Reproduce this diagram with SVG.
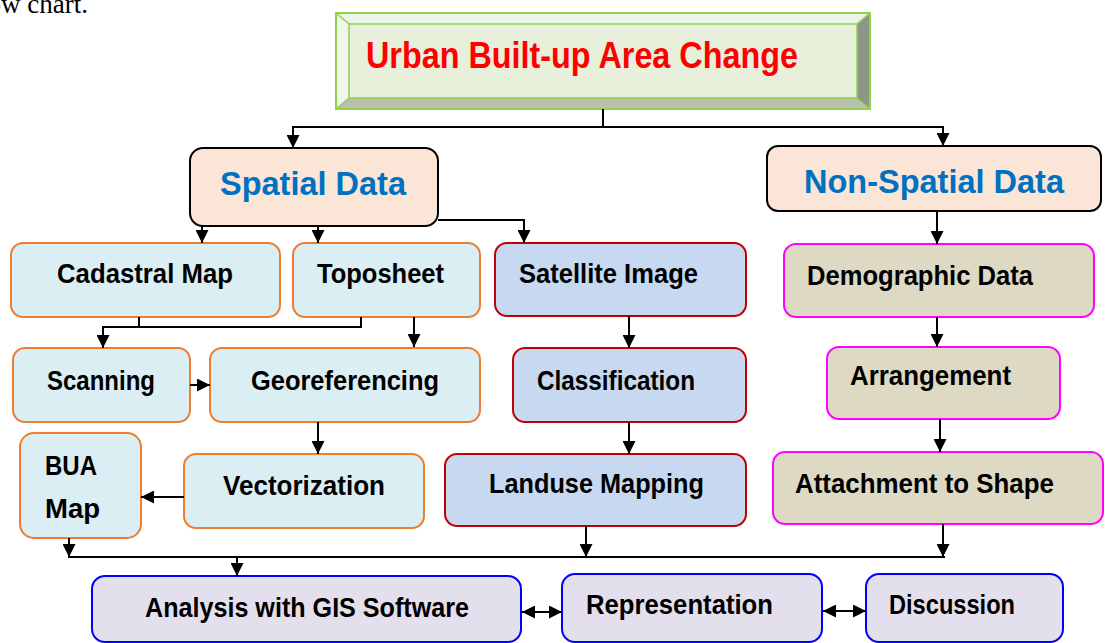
<svg xmlns="http://www.w3.org/2000/svg" width="1105" height="643" viewBox="0 0 1105 643">
<defs>
<marker id="ah" viewBox="0 0 14 14" refX="14" refY="7" markerWidth="14" markerHeight="13" markerUnits="userSpaceOnUse" orient="auto-start-reverse">
<path d="M0,0 L14,7 L0,14 z" fill="#000"/>
</marker>
<style>
.t{font-family:"Liberation Sans Narrow","Liberation Sans",Arial,sans-serif;font-weight:bold;fill:#000;font-size:27px}
.sp{fill:#fbe5d6;stroke:#000;stroke-width:2}
.or{fill:#daeef3;stroke:#ed7d31;stroke-width:2}
.rd{fill:#c6d9f0;stroke:#c00000;stroke-width:2}
.mg{fill:#ddd9c3;stroke:#ff00ff;stroke-width:2}
.bl{fill:#e4dfec;stroke:#0000ff;stroke-width:2}
.c line,.c polyline{stroke:#000;stroke-width:2;fill:none}
.a{marker-end:url(#ah)}
.d{marker-start:url(#ah);marker-end:url(#ah)}
</style>
</defs>
<rect width="1105" height="643" fill="#fff"/>
<text x="88" y="13" text-anchor="end" font-family="Liberation Serif,serif" font-size="27">ow chart.</text>

<g id="title">
<polygon points="336,13 870,13 857,24 349,24" fill="#eef3e7"/>
<polygon points="336,13 349,24 349,98 336,109" fill="#f1f5ec"/>
<polygon points="336,109 349,98 857,98 870,109" fill="#b9c1ae"/>
<polygon points="870,13 857,24 857,98 870,109" fill="#8e9688"/>
<rect x="349" y="24" width="508" height="74" fill="#e8f0dc"/>
<rect x="336" y="13" width="534" height="96" fill="none" stroke="#92d050" stroke-width="2"/>
<rect x="349" y="24" width="508" height="74" fill="none" stroke="#92d050" stroke-width="1.5"/>
<path d="M336,13 L349,24 M870,13 L857,24 M336,109 L349,98 M870,109 L857,98" stroke="#92d050" stroke-width="1.5"/>
<text x="366" y="68" class="t" style="font-size:36px;fill:#ff0000" textLength="432" lengthAdjust="spacingAndGlyphs">Urban Built-up Area Change</text>
</g>

<g id="spatial">
<rect x="190" y="148" width="248" height="78" rx="13" class="sp"/>
<text x="220" y="195" class="t" style="font-size:33px;fill:#0070c0" textLength="186" lengthAdjust="spacingAndGlyphs">Spatial Data</text>
</g>
<g id="nonspatial">
<rect x="767" y="146" width="334" height="65" rx="11" class="sp"/>
<text x="804" y="193" class="t" style="font-size:34px;fill:#0070c0" textLength="260" lengthAdjust="spacingAndGlyphs">Non-Spatial Data</text>
</g>

<g id="cadastral">
<rect x="11" y="243" width="269" height="74" rx="12" class="or"/>
<text x="57" y="283" class="t" textLength="176" lengthAdjust="spacingAndGlyphs">Cadastral Map</text>
</g>
<g id="toposheet">
<rect x="293" y="243" width="187" height="74" rx="12" class="or"/>
<text x="317" y="283" class="t" textLength="127" lengthAdjust="spacingAndGlyphs">Toposheet</text>
</g>
<g id="satellite">
<rect x="495" y="243" width="251" height="73" rx="12" class="rd"/>
<text x="519" y="283" class="t" textLength="179" lengthAdjust="spacingAndGlyphs">Satellite Image</text>
</g>
<g id="demographic">
<rect x="784" y="244" width="310" height="73" rx="12" class="mg"/>
<text x="807" y="285" class="t" textLength="226" lengthAdjust="spacingAndGlyphs">Demographic Data</text>
</g>

<g id="scanning">
<rect x="13" y="348" width="177" height="74" rx="12" class="or"/>
<text x="47" y="390" class="t" textLength="108" lengthAdjust="spacingAndGlyphs">Scanning</text>
</g>
<g id="georef">
<rect x="210" y="348" width="270" height="74" rx="12" class="or"/>
<text x="251" y="390" class="t" textLength="188" lengthAdjust="spacingAndGlyphs">Georeferencing</text>
</g>
<g id="classification">
<rect x="513" y="348" width="233" height="74" rx="12" class="rd"/>
<text x="537" y="390" class="t" textLength="158" lengthAdjust="spacingAndGlyphs">Classification</text>
</g>
<g id="arrangement">
<rect x="827" y="347" width="233" height="72" rx="12" class="mg"/>
<text x="850" y="385" class="t" textLength="161" lengthAdjust="spacingAndGlyphs">Arrangement</text>
</g>

<g id="bua">
<rect x="20" y="433" width="121" height="105" rx="14" class="or"/>
<text x="45" y="475" class="t" textLength="52" lengthAdjust="spacingAndGlyphs">BUA</text>
<text x="45" y="518" class="t" textLength="55" lengthAdjust="spacingAndGlyphs">Map</text>
</g>
<g id="vectorization">
<rect x="184" y="454" width="240" height="74" rx="12" class="or"/>
<text x="223" y="495" class="t" textLength="162" lengthAdjust="spacingAndGlyphs">Vectorization</text>
</g>
<g id="landuse">
<rect x="445" y="454" width="301" height="72" rx="12" class="rd"/>
<text x="489" y="493" class="t" textLength="215" lengthAdjust="spacingAndGlyphs">Landuse Mapping</text>
</g>
<g id="attachment">
<rect x="773" y="452" width="330" height="72" rx="12" class="mg"/>
<text x="795" y="493" class="t" textLength="259" lengthAdjust="spacingAndGlyphs">Attachment to Shape</text>
</g>

<g id="analysis">
<rect x="92" y="576" width="429" height="66" rx="13" class="bl"/>
<text x="145" y="617" class="t" textLength="324" lengthAdjust="spacingAndGlyphs">Analysis with GIS Software</text>
</g>
<g id="representation">
<rect x="562" y="574" width="260" height="68" rx="13" class="bl"/>
<text x="586" y="614" class="t" textLength="187" lengthAdjust="spacingAndGlyphs">Representation</text>
</g>
<g id="discussion">
<rect x="866" y="574" width="197" height="68" rx="13" class="bl"/>
<text x="889" y="614" class="t" textLength="126" lengthAdjust="spacingAndGlyphs">Discussion</text>
</g>

<g id="connectors" class="c">
<line x1="603" y1="109" x2="603" y2="128"/>
<line x1="292" y1="127" x2="944" y2="127"/>
<line x1="293" y1="127" x2="293" y2="148" class="a"/>
<line x1="943" y1="127" x2="943" y2="146" class="a"/>
<line x1="202" y1="226" x2="202" y2="243" class="a"/>
<line x1="318" y1="226" x2="318" y2="243" class="a"/>
<polyline points="438,220 524,220 524,243" class="a"/>
<line x1="937" y1="211" x2="937" y2="244" class="a"/>
<polyline points="139,317 139,327"/>
<polyline points="361,317 361,327 102,327"/>
<line x1="103" y1="327" x2="103" y2="348" class="a"/>
<line x1="414" y1="317" x2="414" y2="347" class="a"/>
<line x1="190" y1="385" x2="210" y2="385" class="a"/>
<line x1="318" y1="422" x2="318" y2="454" class="a"/>
<line x1="184" y1="497" x2="141" y2="497" class="a"/>
<line x1="629" y1="316" x2="629" y2="348" class="a"/>
<line x1="629" y1="422" x2="629" y2="454" class="a"/>
<line x1="937" y1="317" x2="937" y2="347" class="a"/>
<line x1="940" y1="419" x2="940" y2="452" class="a"/>
<line x1="69" y1="538" x2="69" y2="557" class="a"/>
<line x1="586" y1="526" x2="586" y2="557" class="a"/>
<line x1="943" y1="524" x2="943" y2="557" class="a"/>
<line x1="68" y1="557" x2="945" y2="557"/>
<line x1="237" y1="557" x2="237" y2="576" class="a"/>
<line x1="522" y1="612" x2="562" y2="612" class="d"/>
<line x1="823" y1="611" x2="866" y2="611" class="d"/>
</g>
</svg>
